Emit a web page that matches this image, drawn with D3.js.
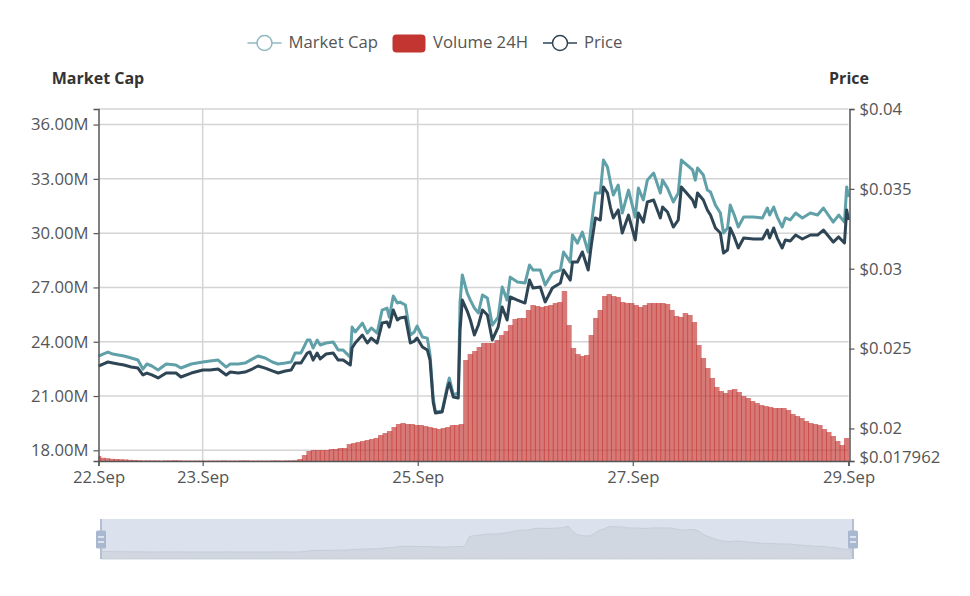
<!DOCTYPE html>
<html>
<head>
<meta charset="utf-8">
<script src="https://cdn.jsdelivr.net/npm/d3@7/dist/d3.min.js"></script>
<style>
  html, body { margin: 0; padding: 0; background: #fff; }
  text { font-family: "Open Sans", "Noto Sans", sans-serif; }
</style>
</head>
<body>
<script>
// hours since the start of the chart, shared by market cap and price
var lineHours = [
  0,1.0,2.1,3.2,4.4,5.7,7.3,8.8,9.9,10.8,
  11.9,13.3,15.1,17.3,18.4,20.7,23.3,24.9,26.7,28.5,
  29.4,31.2,32.7,34.3,35.6,37.2,38.8,40.1,41.7,43.0,
  43.9,45.2,46.6,47.2,47.9,48.8,49.5,50.8,52.4,53.5,
  54.6,56.2,56.6,57.3,58.9,60.0,60.9,62.2,63.3,64.4,
  64.9,65.8,66.7,67.3,68.5,69.6,70.5,71.1,72.3,73.4,
  74.0,74.7,75.2,76.7,77.9,78.3,79.2,80.3,80.7,81.2,
  82.3,83.0,83.9,84.8,85.7,86.8,87.9,89.2,90.1,91.2,
  91.9,93.5,95.2,96.2,97.0,98.6,99.7,101.3,103.1,103.8,
  105.3,105.8,106.9,108.0,109.3,110.0,110.9,112.0,112.7,113.6,
  114.3,114.9,116.0,116.9,118.3,119.8,120.5,121.6,122.5,123.9,
  125.4,125.9,127.0,128.3,129.4,130.1,132.6,133.2,133.7,135.0,
  135.9,136.6,137.7,138.8,139.5,140.4,141.0,141.9,142.8,144.0,
  146.2,148.2,149.3,149.8,150.7,151.5,152.6,153.3,154.4,155.6,
  157.1,158.9,160.5,161.8,164.0,165.2,166.5,167.0,167.4
];

// market cap in millions
var marketCap = [
  23.21,23.32,23.43,23.32,23.27,23.21,23.10,22.99,22.49,22.77,
  22.66,22.44,22.77,22.71,22.55,22.77,22.88,22.93,22.99,22.60,
  22.77,22.77,22.82,23.04,23.21,23.10,22.88,22.77,22.82,22.88,
  23.38,23.38,24.09,24.09,23.65,24.09,23.82,23.93,23.98,23.54,
  23.54,23.15,24.81,24.54,25.03,24.48,24.76,24.48,25.75,25.86,
  25.36,26.52,26.14,26.19,26.03,24.37,24.54,24.87,24.26,24.20,
  23.27,20.89,20.12,20.17,21.61,21.99,21.06,21.17,26.19,27.69,
  26.69,26.30,25.86,25.59,26.58,26.41,24.92,25.36,27.02,26.30,
  27.57,27.30,27.24,28.24,27.96,27.96,27.13,27.79,27.96,28.96,
  28.40,29.90,29.45,30.06,28.96,30.45,32.22,32.22,34.04,33.65,
  32.77,32.11,32.66,31.11,32.38,30.89,32.49,31.83,32.93,33.32,
  32.22,32.93,32.49,31.72,32.22,34.04,33.49,32.93,33.60,33.21,
  32.38,32.27,31.55,31.11,30.01,30.28,31.55,31.00,30.34,30.89,
  30.89,30.84,31.39,31.00,31.44,30.89,30.34,30.84,30.73,31.11,
  30.84,31.11,31.00,31.39,30.61,31.00,30.61,32.55,32.00
];

var price = [
  .02391,.02403,.02416,.02410,.02403,.02397,.02385,.02378,.02335,.02347,
  .02335,.02316,.02347,.02347,.02322,.02347,.02366,.02366,.02372,.02335,
  .02353,.02347,.02353,.02372,.02391,.02378,.02360,.02347,.02360,.02366,
  .02410,.02410,.02472,.02479,.02428,.02472,.02435,.02466,.02472,.02428,
  .02428,.02397,.02504,.02535,.02585,.02535,.02566,.02535,.02660,.02666,
  .02635,.02742,.02679,.02691,.02698,.02535,.02547,.02566,.02510,.02491,
  .02428,.02166,.02097,.02103,.02253,.02284,.02197,.02191,.02616,.02804,
  .02735,.02679,.02585,.02648,.02742,.02710,.02554,.02635,.02760,.02679,
  .02823,.02804,.02785,.02929,.02879,.02886,.02792,.02879,.02911,.02992,
  .02929,.03042,.03042,.03105,.02992,.03148,.03318,.03305,.03512,.03474,
  .03380,.03318,.03368,.03224,.03336,.03180,.03349,.03292,.03418,.03430,
  .03318,.03386,.03355,.03261,.03305,.03512,.03430,.03386,.03474,.03430,
  .03368,.03336,.03255,.03224,.03098,.03117,.03255,.03199,.03130,.03192,
  .03186,.03186,.03242,.03192,.03255,.03192,.03130,.03180,.03174,.03211,
  .03186,.03211,.03211,.03242,.03167,.03199,.03161,.03368,.03305
];

// hourly 24h volume, in thousands
var volume = [
  25,16,14,11,10,9,8,6,5,4,3,3,3,3,2,3,3,4,3,2,2,2,2,2,2,2,2,2,3,2,2,2,3,3,2,2,2,2,2,3,3,2,3,3,4,
  10,30,50,55,55,55,55,60,60,65,
  65,85,90,95,100,105,110,115,130,140,
  150,170,185,190,185,185,180,180,175,170,
  165,160,165,170,180,180,185,505,535,550,
  570,590,590,590,605,630,650,680,710,715,
  715,755,780,775,770,775,780,790,795,850,
  680,565,535,525,530,630,715,755,825,835,
  825,820,795,790,790,780,770,780,790,790,
  790,790,785,755,725,720,740,730,695,580,
  515,465,415,370,350,340,355,360,345,325,
  315,300,290,280,275,270,265,265,265,255,
  235,225,215,200,190,185,180,160,145,125,
  100,80,115
];

var capTicks = [18, 21, 24, 27, 30, 33, 36];
var priceTicks = [0.04, 0.035, 0.03, 0.025, 0.02, 0.017962];
var seriesNames = ["Market Cap", "Volume 24H", "Price"];

var startTime = new Date(2020, 8, 22, 0, 45);
var dayTicks = [new Date(2020, 8, 23), new Date(2020, 8, 25), new Date(2020, 8, 27)];

function hourToDate(h) { return new Date(+startTime + h * 3600000); }
var endTime = hourToDate(167.4);

var capColor = "#61a0a8", volColor = "#c23531", priceColor = "#2f4554";
var textColor = "#555", axisColor = "#555", gridColor = "#d4d4d4";
var tickFont = "16.7px";

var plot = {left: 98.5, right: 848.5, top: 109, bottom: 461};

var svg = d3.select("body").append("svg")
    .attr("width", 970)
    .attr("height", 596)
    .style("display", "block");

// the reference is a soft screenshot, so take the edge off the marks
svg.append("filter").attr("id", "soft")
    .attr("x", "-2%").attr("y", "-2%").attr("width", "104%").attr("height", "104%")
  .append("feGaussianBlur").attr("stdDeviation", 0.55);

var x = d3.scaleTime().domain([startTime, endTime]).range([plot.left, plot.right]);
var yCap = d3.scaleLinear().domain([17.41, 36.86]).range([plot.bottom, plot.top]);
var yPrice = d3.scaleLinear().domain([0.017962, 0.04]).range([plot.bottom, plot.top]);
var yVol = d3.scaleLinear().domain([0, 1760]).range([plot.bottom, plot.top]);

svg.append("clipPath").attr("id", "plotClip").append("rect")
    .attr("x", plot.left).attr("y", plot.top - 5)
    .attr("width", plot.right - plot.left + 1).attr("height", plot.bottom - plot.top + 5);

// grid
var grid = svg.append("g").attr("stroke", gridColor).attr("stroke-width", 1.5);
capTicks.forEach(function(t) {
  grid.append("line").attr("x1", plot.left).attr("x2", plot.right)
      .attr("y1", yCap(t)).attr("y2", yCap(t));
});
grid.append("line").attr("x1", plot.left).attr("x2", plot.right)
    .attr("y1", plot.top).attr("y2", plot.top);
dayTicks.forEach(function(t) {
  grid.append("line").attr("x1", x(t)).attr("x2", x(t))
      .attr("y1", plot.top).attr("y2", plot.bottom);
});

// volume bars, slightly overlapping so the stripes show
var step = x(hourToDate(1)) - x(hourToDate(0));
var barWidth = step + 1;
svg.append("g").attr("clip-path", "url(#plotClip)")
  .append("g").attr("filter", "url(#soft)")
  .selectAll("rect").data(volume).enter().append("rect")
    .attr("x", function(d, i) { return x(hourToDate(i)) - barWidth / 2; })
    .attr("y", function(d) { return yVol(d); })
    .attr("width", barWidth)
    .attr("height", function(d) { return yVol(0) - yVol(d); })
    .attr("fill", volColor)
    .attr("fill-opacity", 0.66);

// lines
function drawLine(values, scale, color) {
  var line = d3.line()
      .x(function(d, i) { return x(hourToDate(lineHours[i])); })
      .y(function(d) { return scale(d); });
  svg.append("path")
      .attr("d", line(values))
      .attr("fill", "none")
      .attr("stroke", color)
      .attr("stroke-width", 3)
      .attr("stroke-linejoin", "round")
      .attr("filter", "url(#soft)");
}
drawLine(marketCap, yCap, capColor);
drawLine(price, yPrice, priceColor);

// axes
function styleAxis(g) {
  g.selectAll(".domain").attr("stroke", axisColor).attr("stroke-width", 1.5);
  g.selectAll(".tick line").attr("stroke", axisColor).attr("stroke-width", 1.2);
  g.selectAll(".tick text").attr("fill", textColor)
      .style("font-size", tickFont)
      .style("font-family", '"Open Sans", "Noto Sans", sans-serif');
}

svg.append("g")
    .attr("transform", "translate(" + plot.left + ",0)")
    .call(d3.axisLeft(yCap).tickValues(capTicks).tickSize(5).tickPadding(5)
      .tickFormat(function(d) { return d.toFixed(2) + "M"; }))
    .call(styleAxis);

var priceAxis = svg.append("g")
    .attr("transform", "translate(" + (plot.right + 1) + ",0)")
    .call(d3.axisRight(yPrice).tickValues(priceTicks).tickSize(5).tickPadding(5)
      .tickFormat(function(d) { return "$" + d; }))
    .call(styleAxis);
priceAxis.selectAll(".tick text").filter(function(d) { return d === 0.017962; }).attr("y", 0).attr("dy", "0.1em");

svg.append("g")
    .attr("transform", "translate(0," + plot.bottom + ")")
    .call(d3.axisBottom(x).tickValues([startTime].concat(dayTicks, [endTime])).tickSize(5).tickPadding(5)
      .tickFormat(d3.timeFormat("%-d.%b")))
    .call(styleAxis);

// axis titles
svg.append("text").attr("x", 98).attr("y", 84).attr("text-anchor", "middle")
    .attr("fill", "#333").style("font-size", "16px").style("font-weight", "bold").text("Market Cap");
svg.append("text").attr("x", 849).attr("y", 84).attr("text-anchor", "middle")
    .attr("fill", "#333").style("font-size", "16px").style("font-weight", "bold").text("Price");

// legend
var legendY = 42;
function lineKey(cx, color, name, textX) {
  svg.append("line").attr("x1", cx - 17).attr("x2", cx + 17).attr("y1", legendY + 1).attr("y2", legendY + 1)
      .attr("stroke", color).attr("stroke-width", 1.5);
  svg.append("circle").attr("cx", cx).attr("cy", legendY + 1).attr("r", 7.5)
      .attr("fill", "#fff").attr("stroke", color).attr("stroke-width", 1.5);
  svg.append("text").attr("x", textX).attr("y", legendY + 5.5).attr("fill", textColor)
      .style("font-size", tickFont).text(name);
}
lineKey(264.5, "#8fb8bf", seriesNames[0], 288.5);
svg.append("rect").attr("x", 392.5).attr("y", 34.5).attr("width", 33).attr("height", 18).attr("rx", 4)
    .attr("fill", volColor);
svg.append("text").attr("x", 433).attr("y", legendY + 5.5).attr("fill", textColor)
    .style("font-size", tickFont).text(seriesNames[1]);
lineKey(560, priceColor, seriesNames[2], 584);

// data zoom slider
var zoomBox = {left: 101, right: 853, top: 519, bottom: 559};
var xZoom = d3.scaleTime().domain([startTime, endTime]).range([zoomBox.left, zoomBox.right]);
var yZoom = d3.scaleLinear().domain([0, 1081]).range([552, zoomBox.top]);

svg.append("rect").attr("x", zoomBox.left).attr("y", zoomBox.top)
    .attr("width", zoomBox.right - zoomBox.left).attr("height", zoomBox.bottom - zoomBox.top)
    .attr("fill", "#dbe2ed");
var zoomArea = d3.area()
    .x(function(d, i) { return xZoom(hourToDate(i)); })
    .y0(zoomBox.bottom)
    .y1(function(d) { return yZoom(d); });
svg.append("path").attr("d", zoomArea(volume)).attr("fill", "#d0d7e1")
    .attr("stroke", "#c2c9d4").attr("stroke-width", 0.8);

[zoomBox.left, zoomBox.right].forEach(function(hx) {
  svg.append("line").attr("x1", hx).attr("x2", hx).attr("y1", zoomBox.top).attr("y2", zoomBox.bottom)
      .attr("stroke", "#b4c0d2").attr("stroke-width", 2);
  svg.append("rect").attr("x", hx - 5).attr("y", 530.5).attr("width", 10).attr("height", 18).attr("rx", 1.5)
      .attr("fill", "#a9b8d0");
  [537, 542].forEach(function(sy) {
    svg.append("line").attr("x1", hx - 3).attr("x2", hx + 3).attr("y1", sy).attr("y2", sy)
        .attr("stroke", "#fff").attr("stroke-width", 1.2);
  });
});
</script>
</body>
</html>
